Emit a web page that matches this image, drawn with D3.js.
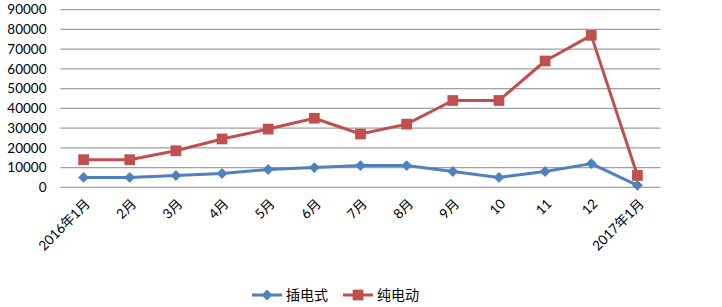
<!DOCTYPE html>
<html>
<head>
<meta charset="utf-8">
<script src="https://cdn.jsdelivr.net/npm/d3@7"></script>
<style>
body { margin: 0; background: #fff; }
text { font-family: Lato, "Noto Sans CJK SC", sans-serif; fill: #000; }
</style>
</head>
<body>
<div id="chart"></div>
<script>
var categories = ["2016年1月","2月","3月","4月","5月","6月","7月","8月","9月","10","11","12","2017年1月"];
var plugIn = [5000,5000,6000,7000,9000,10000,11000,11000,8000,5000,8000,12000,1000];
var pureEV = [14000,14000,18500,24500,29500,35000,27000,32000,44000,44000,64000,77000,6000];
var yTicks = [0,10000,20000,30000,40000,50000,60000,70000,80000,90000];
var seriesNames = ["插电式","纯电动"];

var w = 722, h = 307;
var margin = {left: 60.5, top: 9.7, right: 61.5, bottom: 120};
var pw = w - margin.left - margin.right;
var ph = 187.3 - margin.top;

var svg = d3.select("#chart").append("svg").attr("width", w).attr("height", h);
var g = svg.append("g").attr("transform", "translate(" + margin.left + "," + margin.top + ")");

var xScale = d3.scaleBand().domain(categories).range([0, pw]);
var yScale = d3.scaleLinear().domain([0, 90000]).range([ph, 0]);

// gridlines
g.selectAll(".grid").data(yTicks).enter().append("line")
    .attr("x1", 0).attr("x2", pw)
    .attr("y1", function(d){ return yScale(d); })
    .attr("y2", function(d){ return yScale(d); })
    .attr("stroke", "#a0a0a0").attr("stroke-width", 1.3);

// y labels
g.selectAll(".ylab").data(yTicks).enter().append("text")
    .attr("x", -14).attr("y", function(d){ return yScale(d); })
    .attr("dy", "0.35em").attr("text-anchor", "end")
    .style("font-size", "13.5px")
    .text(function(d){ return d; });

// x labels
g.selectAll(".xlab").data(categories).enter().append("text")
    .attr("transform", function(d){
        var x = xScale(d) + xScale.bandwidth() / 2 + 4;
        return "translate(" + x + "," + (ph + 14) + ") rotate(-45)";
    })
    .attr("text-anchor", "end").attr("dy", "0.35em")
    .style("font-size", "13.5px")
    .text(function(d){ return d; });

var line = d3.line()
    .x(function(d, i){ return xScale(categories[i]) + xScale.bandwidth() / 2; })
    .y(function(d){ return yScale(d); });

var colors = ["#4f81bd", "#c0504d"];

g.append("path").datum(plugIn).attr("d", line)
    .attr("fill", "none").attr("stroke", colors[0]).attr("stroke-width", 3).attr("stroke-linejoin", "round");
g.append("path").datum(pureEV).attr("d", line)
    .attr("fill", "none").attr("stroke", colors[1]).attr("stroke-width", 3).attr("stroke-linejoin", "round");

var diamond = d3.symbol().type(d3.symbolDiamond2).size(75);
var square = d3.symbol().type(d3.symbolSquare).size(115);

g.selectAll(".pt1").data(plugIn).enter().append("path")
    .attr("d", diamond)
    .attr("transform", function(d, i){ return "translate(" + (xScale(categories[i]) + xScale.bandwidth() / 2) + "," + yScale(d) + ")"; })
    .attr("fill", colors[0]);

g.selectAll(".pt2").data(pureEV).enter().append("path")
    .attr("d", square)
    .attr("transform", function(d, i){ return "translate(" + (xScale(categories[i]) + xScale.bandwidth() / 2) + "," + yScale(d) + ")"; })
    .attr("fill", colors[1]);

// legend
var legend = svg.append("g").attr("transform", "translate(252,295)");
var items = legend.selectAll("g").data(seriesNames).enter().append("g")
    .attr("transform", function(d, i){ return "translate(" + (i * 91) + ",0)"; });
items.append("line").attr("x1", 0).attr("x2", 30).attr("y1", 0).attr("y2", 0)
    .attr("stroke", function(d, i){ return colors[i]; }).attr("stroke-width", 3);
items.append("path")
    .attr("d", function(d, i){ return i == 0 ? diamond() : square(); })
    .attr("transform", "translate(15,0)")
    .attr("fill", function(d, i){ return colors[i]; });
items.append("text").attr("x", 34).attr("y", 0).attr("dy", "0.35em")
    .style("font-size", "14px")
    .text(function(d){ return d; });
</script>
</body>
</html>
